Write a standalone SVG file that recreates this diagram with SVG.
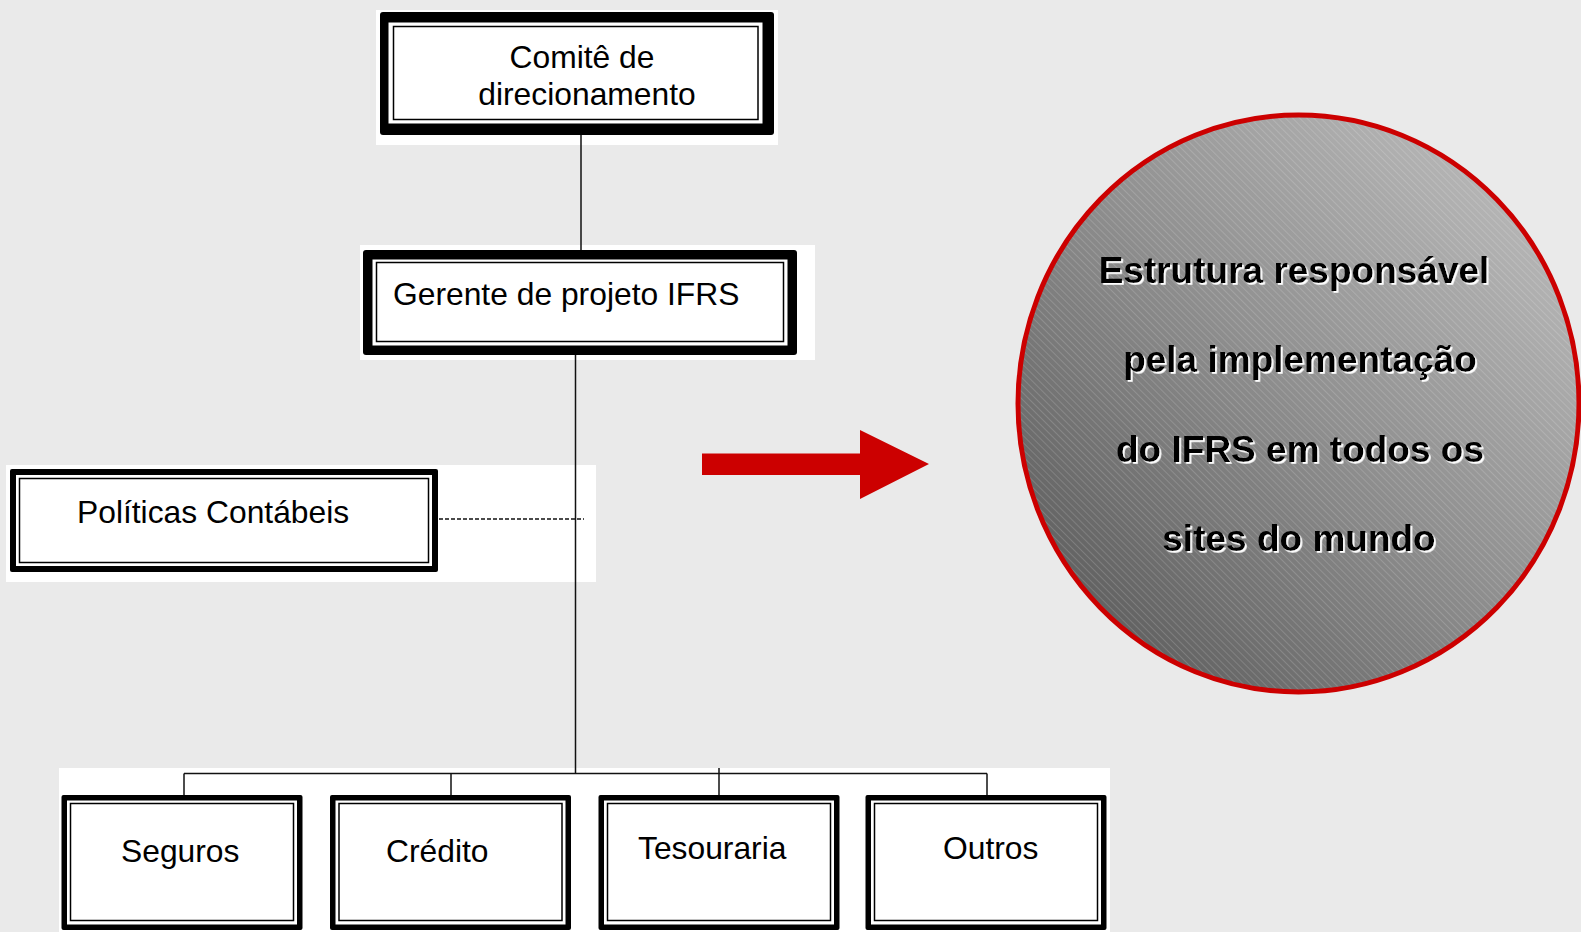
<svg xmlns="http://www.w3.org/2000/svg" width="1581" height="932" viewBox="0 0 1581 932">
  <style>
    .panel { fill: #ffffff; }
    .ob { fill: #000000; }
    .wb { fill: #ffffff; }
    .il { fill: none; stroke: #000000; stroke-width: 1.5; }
    .lbl { font-family: "Liberation Sans", Arial, sans-serif; font-size: 31.8px; fill: #000000; }
    .big { font-family: "Liberation Sans", Arial, sans-serif; font-size: 37px; font-weight: bold; fill: #000000; text-anchor: middle; filter: url(#wshadow); }
    .conn { stroke: #111111; stroke-width: 1.5; fill: none; }
    .dash { stroke: #111111; stroke-width: 1.5; stroke-dasharray: 4 2; fill: none; }
  </style>
  <defs>
    <linearGradient id="circGrad" x1="0" y1="1" x2="1" y2="0">
      <stop offset="0" stop-color="#505050"/>
      <stop offset="0.5" stop-color="#8e8e8e"/>
      <stop offset="1" stop-color="#c4c4c4"/>
    </linearGradient>
    <pattern id="hatch" width="5" height="5" patternUnits="userSpaceOnUse" patternTransform="rotate(-45)">
      <line x1="0.5" y1="0" x2="0.5" y2="5" stroke="#ffffff" stroke-opacity="0.22" stroke-width="0.7"/>
    </pattern>
    <filter id="wshadow" x="-5%" y="-20%" width="110%" height="140%">
      <feDropShadow dx="1.8" dy="1.8" stdDeviation="0" flood-color="#ffffff" flood-opacity="1"/>
    </filter>
  </defs>

  <rect x="0" y="0" width="1581" height="932" fill="#eaeaea"/>

  <!-- white panels behind org chart -->
  <rect class="panel" x="376" y="10" width="402" height="135"/>
  <rect class="panel" x="360" y="245" width="455" height="115"/>
  <rect class="panel" x="6" y="465" width="590" height="117"/>
  <rect class="panel" x="59" y="768" width="1051" height="164"/>

  <g id="connectors">
    <line class="conn" x1="581" y1="134" x2="581" y2="251"/>
    <line class="conn" x1="575.5" y1="354" x2="575.5" y2="774"/>
    <line class="dash" x1="439" y1="519" x2="584" y2="519"/>
    <line class="conn" x1="184" y1="773.5" x2="987" y2="773.5"/>
    <line class="conn" x1="184" y1="773.5" x2="184" y2="796"/>
    <line class="conn" x1="451" y1="773.5" x2="451" y2="796"/>
    <line class="conn" x1="719" y1="768" x2="719" y2="796"/>
    <line class="conn" x1="987" y1="773.5" x2="987" y2="796"/>
  </g>

  <g id="comite">
    <rect class="ob" x="380" y="12" width="394" height="123" rx="3"/>
    <rect class="wb" x="388.5" y="22.5" width="374" height="101"/>
    <rect class="il" x="393.5" y="26.5" width="364.5" height="93"/>
    <text class="lbl" x="582" y="68" text-anchor="middle">Comitê de</text>
    <text class="lbl" x="587" y="105" text-anchor="middle">direcionamento</text>
  </g>

  <g id="gerente">
    <rect class="ob" x="363" y="250" width="434" height="105" rx="3"/>
    <rect class="wb" x="372.5" y="259.5" width="415" height="86"/>
    <rect class="il" x="376.5" y="262.5" width="407" height="79"/>
    <text class="lbl" x="393" y="305">Gerente de projeto IFRS</text>
  </g>

  <g id="politicas">
    <rect class="ob" x="10" y="469" width="428" height="103" rx="2"/>
    <rect class="wb" x="16" y="475" width="416" height="91"/>
    <rect class="il" x="19.5" y="478.5" width="409" height="84"/>
    <text class="lbl" x="77" y="523">Políticas Contábeis</text>
  </g>

  <g id="seguros">
    <rect class="ob" x="61.5" y="795" width="241" height="135" rx="2"/>
    <rect class="wb" x="67" y="800.5" width="230" height="124"/>
    <rect class="il" x="70.5" y="803.5" width="223" height="117"/>
    <text class="lbl" x="121" y="862">Seguros</text>
  </g>

  <g id="credito">
    <rect class="ob" x="330" y="795" width="241" height="135" rx="2"/>
    <rect class="wb" x="335.5" y="800.5" width="230" height="124"/>
    <rect class="il" x="339" y="803.5" width="223" height="117"/>
    <text class="lbl" x="386" y="862">Crédito</text>
  </g>

  <g id="tesouraria">
    <rect class="ob" x="598.5" y="795" width="241" height="135" rx="2"/>
    <rect class="wb" x="604" y="800.5" width="230" height="124"/>
    <rect class="il" x="607.5" y="803.5" width="223" height="117"/>
    <text class="lbl" x="638" y="859">Tesouraria</text>
  </g>

  <g id="outros">
    <rect class="ob" x="865.5" y="795" width="241" height="135" rx="2"/>
    <rect class="wb" x="871" y="800.5" width="230" height="124"/>
    <rect class="il" x="874.5" y="803.5" width="223" height="117"/>
    <text class="lbl" x="943" y="859">Outros</text>
  </g>

  <g id="arrow">
    <polygon points="702,453.5 860,453.5 860,430 929,464 860,499 860,475 702,475" fill="#cc0000"/>
  </g>

  <g id="estrutura">
    <ellipse cx="1298.5" cy="403.5" rx="280.5" ry="288.5" fill="url(#circGrad)"/>
    <ellipse cx="1298.5" cy="403.5" rx="280.5" ry="288.5" fill="url(#hatch)"/>
    <ellipse cx="1298.5" cy="403.5" rx="280.5" ry="288.5" fill="none" stroke="#cc0000" stroke-width="5"/>
    <text class="big" x="1294" y="283">Estrutura responsável</text>
    <text class="big" x="1300" y="372">pela implementação</text>
    <text class="big" x="1300" y="462">do IFRS em todos os</text>
    <text class="big" x="1299" y="551">sites do mundo</text>
  </g>
</svg>
